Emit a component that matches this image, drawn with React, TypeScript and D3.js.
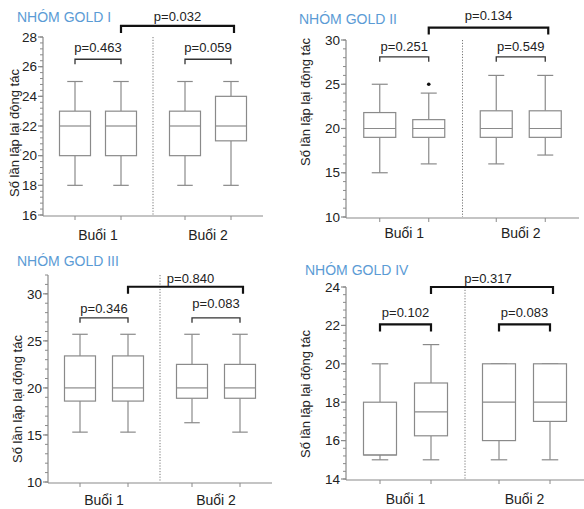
import * as d3 from "d3";

// Biểu đồ hộp 4 nhóm GOLD: mỗi nhóm có 2 buổi, mỗi buổi 2 hộp.
const SESSIONS = ["Buổi 1", "Buổi 2"];
const Y_TITLE = "Số lần lặp lại động tác";
const TITLES = ["NHÓM GOLD I", "NHÓM GOLD II", "NHÓM GOLD III", "NHÓM GOLD IV"];

// [min, q1, median, q3, max] — thứ tự: buổi 1 (hộp a, b), buổi 2 (hộp a, b)
const GOLD_I_BOXES = [
  [18, 20, 22, 23, 25],
  [18, 20, 22, 23, 25],
  [18, 20, 22, 23, 25],
  [18, 21, 22, 24, 25],
];
const GOLD_II_BOXES = [
  [15, 19, 20, 21.8, 25],
  [16, 19, 20, 21, 24],
  [16, 19, 20, 22, 26],
  [17, 19, 20, 22, 26],
];
const GOLD_III_BOXES = [
  [15.3, 18.6, 20, 23.4, 25.7],
  [15.3, 18.6, 20, 23.4, 25.7],
  [16.3, 18.9, 20, 22.5, 25.7],
  [15.3, 18.9, 20, 22.5, 25.7],
];
const GOLD_IV_BOXES = [
  [15, 15.25, 15.25, 18, 20],
  [15, 16.25, 17.5, 19, 21],
  [15, 16, 18, 20, 20],
  [15, 17, 18, 20, 20],
];
const GOLD_II_OUTLIERS = [{ box: 1, value: 25 }];

// nhãn p: [buổi 1, buổi 2, giữa hai buổi]
const GOLD_I_P = ["p=0.463", "p=0.059", "p=0.032"];
const GOLD_II_P = ["p=0.251", "p=0.549", "p=0.134"];
const GOLD_III_P = ["p=0.346", "p=0.083", "p=0.840"];
const GOLD_IV_P = ["p=0.102", "p=0.083", "p=0.317"];

const GOLD_I_TICKS = [16, 18, 20, 22, 24, 26, 28];
const GOLD_II_TICKS = [10, 15, 20, 25, 30];
const GOLD_III_TICKS = [10, 15, 20, 25, 30];
const GOLD_IV_TICKS = [14, 16, 18, 20, 22, 24];

const FONT = "'Liberation Sans', Arial, sans-serif";
const BOX_COLOR = "#8a8a8a";
const AXIS_COLOR = "#8a8a8a";
const TEXT_COLOR = "#222";
const TITLE_COLOR = "#5b9bd5";

type Outlier = { box: number; value: number };
type PanelCfg = {
  title: string;
  boxes: number[][];
  outliers: Outlier[];
  pLabels: string[];
  ticks: number[];
  domain: [number, number];
  minorStep: number;
  // bố cục (pixel)
  left: number;
  right: number;
  bottom: number;
  top: number;
  spread: number;
  boxW: number;
  titleX: number;
  titleY: number;
  yTitleX: number;
  yTitleY: number;
  labelY: number;
  // vị trí ngoặc theo đơn vị dữ liệu và khoảng cách chữ
  levels: number[];
  textGap: number[];
  thick: boolean[];
  outerDx: number;
};

const PANELS: PanelCfg[] = [
  {
    title: TITLES[0], boxes: GOLD_I_BOXES, outliers: [], pLabels: GOLD_I_P,
    ticks: GOLD_I_TICKS, domain: [16, 28], minorStep: 0.4,
    left: 43, right: 263, bottom: 215, top: 37, spread: 23, boxW: 31,
    titleX: 17, titleY: 22, yTitleX: 19, yTitleY: 133, labelY: 240,
    levels: [26.5, 26.5, 28.75], textGap: [7, 7, 5], thick: [false, false, true], outerDx: 0,
  },
  {
    title: TITLES[1], boxes: GOLD_II_BOXES, outliers: GOLD_II_OUTLIERS, pLabels: GOLD_II_P,
    ticks: GOLD_II_TICKS, domain: [10, 30], minorStep: 1,
    left: 346, right: 579, bottom: 217, top: 40, spread: 24.5, boxW: 32,
    titleX: 299, titleY: 24, yTitleX: 310, yTitleY: 102, labelY: 238,
    levels: [28.1, 28.1, 31.4], textGap: [6, 6, 8], thick: [false, false, true], outerDx: 0,
  },
  {
    title: TITLES[2], boxes: GOLD_III_BOXES, outliers: [], pLabels: GOLD_III_P,
    ticks: GOLD_III_TICKS, domain: [10, 32], minorStep: 1,
    left: 48, right: 272, bottom: 482, top: 275, spread: 24, boxW: 31,
    titleX: 17, titleY: 266, yTitleX: 22, yTitleY: 399, labelY: 505,
    levels: [27.45, 27.45, 30.75], textGap: [5, 10, 4], thick: [false, false, true], outerDx: 5,
  },
  {
    title: TITLES[3], boxes: GOLD_IV_BOXES, outliers: [], pLabels: GOLD_IV_P,
    ticks: GOLD_IV_TICKS, domain: [14, 24], minorStep: 0.4,
    left: 346, right: 584, bottom: 479, top: 287, spread: 25.5, boxW: 33,
    titleX: 305, titleY: 275, yTitleX: 310, yTitleY: 394, labelY: 504,
    levels: [22.05, 22.05, 24.0], textGap: [7, 7, 4], thick: [true, true, true], outerDx: -4,
  },
];

function Panel({ cfg }: { cfg: PanelCfg }) {
  const y = d3.scaleLinear().domain(cfg.domain).range([cfg.bottom, cfg.top]);
  const sx = d3.scaleBand<string>().domain(SESSIONS).range([cfg.left, cfg.right]);
  const inner = d3.scalePoint<number>().domain([0, 1]).range([-cfg.spread, cfg.spread]);
  const bw = sx.bandwidth();
  const boxX = (i: number) => (sx(SESSIONS[Math.floor(i / 2)]) as number) + bw / 2 + (inner(i % 2) as number);

  const minor = d3.range(cfg.domain[0], cfg.domain[1] + 1e-6, cfg.minorStep);
  const divX = (sx(SESSIONS[1]) as number);
  const cap = cfg.boxW / 2;

  const brackets = [
    { x1: boxX(0), x2: boxX(1) },
    { x1: boxX(2), x2: boxX(3) },
    { x1: boxX(1), x2: boxX(3) + 3 },
  ];

  return (
    <g fontFamily={FONT}>
      <text x={cfg.titleX} y={cfg.titleY} fill={TITLE_COLOR} fontSize={14}>
        {cfg.title}
      </text>

      {/* trục y */}
      <line x1={cfg.left} x2={cfg.left} y1={y(cfg.domain[1])} y2={cfg.bottom + 1} stroke={AXIS_COLOR} strokeWidth={1.2} />
      {minor.map((v, i) => (
        <line key={"m" + i} x1={cfg.left - 3} x2={cfg.left} y1={y(v)} y2={y(v)} stroke={AXIS_COLOR} strokeWidth={1} />
      ))}
      {cfg.ticks.map((t) => (
        <g key={"t" + t}>
          <line x1={cfg.left - 5} x2={cfg.left} y1={y(t)} y2={y(t)} stroke={AXIS_COLOR} strokeWidth={1.2} />
          <text x={cfg.left - 6} y={y(t)} dy="0.35em" textAnchor="end" fontSize={13.5} fill={TEXT_COLOR}>
            {t}
          </text>
        </g>
      ))}
      <text
        transform={`translate(${cfg.yTitleX},${cfg.yTitleY}) rotate(-90)`}
        textAnchor="middle"
        fontSize={13}
        fill={TEXT_COLOR}
      >
        {Y_TITLE}
      </text>

      {/* trục x */}
      <line x1={cfg.left} x2={cfg.right} y1={cfg.bottom + 1} y2={cfg.bottom + 1} stroke={AXIS_COLOR} strokeWidth={1.2} />
      {cfg.boxes.map((_, i) => (
        <line key={"xt" + i} x1={boxX(i)} x2={boxX(i)} y1={cfg.bottom + 1} y2={cfg.bottom + 5} stroke={AXIS_COLOR} strokeWidth={1} />
      ))}
      {SESSIONS.map((s) => (
        <text key={s} x={(sx(s) as number) + bw / 2} y={cfg.labelY} textAnchor="middle" fontSize={14} fill={TEXT_COLOR}>
          {s}
        </text>
      ))}

      {/* đường chia hai buổi */}
      <line x1={divX} x2={divX} y1={y(cfg.domain[1])} y2={cfg.bottom} stroke="#777" strokeWidth={1} strokeDasharray="1.2,1.6" />

      {/* hộp */}
      {cfg.boxes.map(([mn, q1, md, q3, mx], i) => {
        const cx = boxX(i);
        return (
          <g key={"b" + i} stroke={BOX_COLOR} strokeWidth={1.2} fill="none">
            <line x1={cx} x2={cx} y1={y(mx)} y2={y(q3)} />
            <line x1={cx} x2={cx} y1={y(q1)} y2={y(mn)} />
            <line x1={cx - cap / 2} x2={cx + cap / 2} y1={y(mx)} y2={y(mx)} />
            <line x1={cx - cap / 2} x2={cx + cap / 2} y1={y(mn)} y2={y(mn)} />
            <rect x={cx - cfg.boxW / 2} y={y(q3)} width={cfg.boxW} height={y(q1) - y(q3)} fill="#fff" />
            <line x1={cx - cfg.boxW / 2} x2={cx + cfg.boxW / 2} y1={y(md)} y2={y(md)} />
          </g>
        );
      })}
      {cfg.outliers.map((o, i) => (
        <circle key={"o" + i} cx={boxX(o.box)} cy={y(o.value)} r={1.8} fill="#111" />
      ))}

      {/* ngoặc p */}
      {brackets.map((b, i) => {
        const by = y(cfg.levels[i]);
        const thick = cfg.thick[i];
        const leg = thick ? 7 : 5;
        const dx = i === 2 ? cfg.outerDx : 0;
        return (
          <g key={"p" + i}>
            <path
              d={`M${b.x1},${by + leg}V${by}H${b.x2}V${by + leg}`}
              fill="none"
              stroke={thick ? "#111" : "#333"}
              strokeWidth={thick ? 2.2 : 1.3}
            />
            <text x={(b.x1 + b.x2) / 2 + dx} y={by - cfg.textGap[i]} textAnchor="middle" fontSize={13} fill={TEXT_COLOR}>
              {cfg.pLabels[i]}
            </text>
          </g>
        );
      })}
    </g>
  );
}

export default function App() {
  return (
    <svg width={584} height={509} style={{ position: "absolute", left: 0, top: 0, background: "#fff" }}>
      <rect width={584} height={509} fill="#fff" />
      {PANELS.map((p) => (
        <Panel key={p.title} cfg={p} />
      ))}
    </svg>
  );
}
